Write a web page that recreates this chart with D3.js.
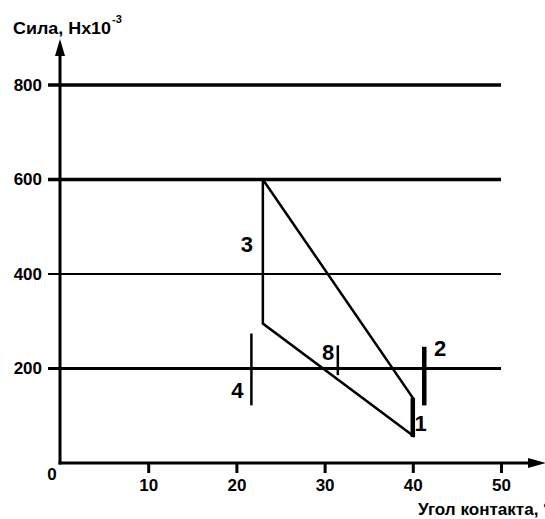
<!DOCTYPE html>
<html>
<head>
<meta charset="utf-8">
<script src="https://cdn.jsdelivr.net/npm/d3@7"></script>
<style>
  html, body { margin: 0; padding: 0; background: #fff; }
  svg text { font-family: "Liberation Sans", Arial, sans-serif; font-weight: bold; fill: #000; }
</style>
</head>
<body>
<div id="chart"></div>
<script>
// contact angle, degrees
const xTicks = [10, 20, 30, 40, 50];
// force, N x 10^-3
const yTicks = [200, 400, 600, 800];

// outline of the force / angle region: [angle, force]
const region = [[23, 600], [23, 295], [40, 58], [40, 138], [23, 600]];

// vertical markers: angle, force from, force to
const markers = [
    {id: '1', x: 40, y0: 55, y1: 138, heavy: true},
    {id: '2', x: 41.3, y0: 122, y1: 246, heavy: true},
    {id: '4', x: 21.7, y0: 122, y1: 274, heavy: false},
    {id: '8', x: 31.5, y0: 186, y1: 249, heavy: false}
];

// numbered labels: text, angle, force
const labels = [
    ['3', 21.2, 464],
    ['4', 20.1, 154],
    ['8', 30.4, 234],
    ['2', 43.1, 243],
    ['1', 40.9, 84]
];

const width = 545, height = 519;

const svg = d3.select('#chart').append('svg')
    .attr('width', width)
    .attr('height', height)
    .attr('viewBox', `0 0 ${width} ${height}`);

const x = d3.scaleLinear().domain([0, 50]).range([60, 501]);
const y = d3.scaleLinear().domain([0, 800]).range([463, 85]);

// grid lines, the lighter one at 400
const gridWidth = {200: 3, 400: 2, 600: 3.5, 800: 3.5};
svg.append('g')
    .selectAll('line')
    .data(yTicks)
    .join('line')
    .attr('x1', x(0) - 12)
    .attr('x2', x(50))
    .attr('y1', d => y(d))
    .attr('y2', d => y(d))
    .attr('stroke', '#000')
    .attr('stroke-width', d => gridWidth[d]);

// y tick labels
const yAxis = svg.append('g')
    .attr('transform', `translate(${x(0)},0)`)
    .call(d3.axisLeft(y).tickValues(yTicks).tickSize(0).tickPadding(18));
yAxis.select('.domain').remove();
yAxis.selectAll('text').attr('font-size', 17).attr('font-family', null);

// x ticks
const xAxis = svg.append('g')
    .attr('transform', `translate(0,${y(0)})`)
    .call(d3.axisBottom(x).tickValues(xTicks).tickSizeInner(10).tickSizeOuter(0).tickPadding(6));
xAxis.select('.domain').remove();
xAxis.selectAll('.tick line').attr('stroke-width', 3);
xAxis.selectAll('text').attr('font-size', 17).attr('font-family', null);

// zero at origin
svg.append('text')
    .attr('x', x(0) - 8)
    .attr('y', y(0) + 17)
    .attr('text-anchor', 'middle')
    .attr('font-size', 17)
    .text('0');

// axes with arrows
svg.append('line')
    .attr('x1', x(0)).attr('x2', x(0))
    .attr('y1', y(0) + 1.5).attr('y2', 50)
    .attr('stroke', '#000').attr('stroke-width', 3);
svg.append('path')
    .attr('d', `M${x(0)},39 L${x(0) - 5},56 L${x(0) + 5},56 Z`)
    .attr('fill', '#000');

svg.append('line')
    .attr('x1', x(0) - 1.5).attr('x2', 535)
    .attr('y1', y(0)).attr('y2', y(0))
    .attr('stroke', '#000').attr('stroke-width', 3);
svg.append('path')
    .attr('d', `M546,${y(0)} L528,${y(0) - 5} L528,${y(0) + 5} Z`)
    .attr('fill', '#000');

// axis titles
const yTitle = svg.append('text')
    .attr('x', 13)
    .attr('y', 34)
    .attr('font-size', 16)
    .attr('textLength', 98)
    .attr('lengthAdjust', 'spacingAndGlyphs')
    .text('Сила, Нх10');
svg.append('text')
    .attr('x', 112)
    .attr('y', 23)
    .attr('font-size', 11)
    .text('-3');

svg.append('text')
    .attr('x', 418)
    .attr('y', 515)
    .attr('font-size', 16)
    .attr('textLength', 132)
    .attr('lengthAdjust', 'spacingAndGlyphs')
    .text('Угол контакта, °');

// region outline
svg.append('path')
    .datum(region)
    .attr('d', d3.line().x(d => x(d[0])).y(d => y(d[1])))
    .attr('fill', 'none')
    .attr('stroke', '#000')
    .attr('stroke-width', 2.5)
    .attr('stroke-linejoin', 'miter');

// markers
svg.append('g')
    .selectAll('line')
    .data(markers)
    .join('line')
    .attr('x1', d => x(d.x))
    .attr('x2', d => x(d.x))
    .attr('y1', d => y(d.y0))
    .attr('y2', d => y(d.y1))
    .attr('stroke', '#000')
    .attr('stroke-width', d => d.heavy ? 4.5 : 2.5);

// numbered labels
svg.append('g')
    .selectAll('text')
    .data(labels)
    .join('text')
    .attr('x', d => x(d[1]))
    .attr('y', d => y(d[2]))
    .attr('dy', '0.36em')
    .attr('text-anchor', 'middle')
    .attr('font-size', 22)
    .text(d => d[0]);
</script>
</body>
</html>
